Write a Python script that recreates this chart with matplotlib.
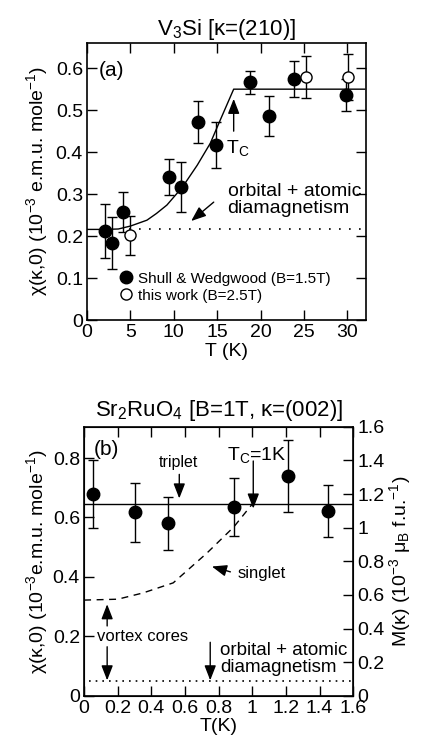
import numpy as np
import matplotlib
matplotlib.use("Agg")
import matplotlib.pyplot as plt
from matplotlib.lines import Line2D

plt.rcParams["font.family"] = ["Liberation Sans", "DejaVu Sans"]
plt.rcParams["mathtext.default"] = "regular"

# ── Panel (a): V3Si ───────────────────────────────────────────────────────────
a_filled_T   = [2.1, 2.9, 4.1, 9.5, 10.8, 12.8, 14.9, 18.8, 21.0, 23.9, 29.8]
a_filled_chi = [0.212, 0.183, 0.258, 0.340, 0.317, 0.471, 0.417, 0.566, 0.486, 0.574, 0.536]
a_filled_err = [0.065, 0.062, 0.048, 0.043, 0.060, 0.050, 0.055, 0.028, 0.048, 0.042, 0.038]

a_open_T   = [5.0, 25.2, 30.1]
a_open_chi = [0.202, 0.579, 0.579]
a_open_err = [0.047, 0.050, 0.055]

# model curve
a_fit_T   = [0, 2, 3.6, 5, 6.9, 8, 9.2, 11.0, 12.7, 14.2, 15.3, 16.9, 32]
a_fit_chi = [0.216, 0.216, 0.217, 0.224, 0.238, 0.254, 0.274, 0.317, 0.369, 0.421, 0.474, 0.550, 0.550]

a_diamag = 0.217

# ── Panel (b): Sr2RuO4 ───────────────────────────────────────────────────────
b_T   = [0.055, 0.30, 0.50, 0.89, 1.21, 1.45]
b_chi = [0.679, 0.618, 0.580, 0.636, 0.739, 0.622]
b_err = [0.115, 0.099, 0.089, 0.097, 0.12, 0.087]

b_triplet = 0.645
b_singlet_T   = [0, 0.2, 0.35, 0.53, 0.73, 0.89, 1.0]
b_singlet_chi = [0.322, 0.325, 0.346, 0.38, 0.48, 0.568, 0.645]
b_diamag = 0.05

fig = plt.figure(figsize=(4.27, 7.41), dpi=100)

TICK = dict(direction="in", length=7, width=1, labelsize=14, pad=3)
arr = dict(arrowstyle="-|>,head_length=0.9,head_width=0.35", color="k", lw=1,
           shrinkA=0, shrinkB=0)

# ── (a) ──────────────────────────────────────────────────────────────────────
ax = fig.add_axes([0.204, 0.568, 0.654, 0.374])
ax.plot(a_fit_T, a_fit_chi, color="k", lw=1)
ax.axhline(a_diamag, xmin=0.15, color="k", lw=1.2, ls=(0, (1, 5)))
ax.errorbar(a_filled_T, a_filled_chi, yerr=a_filled_err, fmt="o", color="k",
            ms=9, capsize=3.5, elinewidth=1, capthick=1)
ax.errorbar(a_open_T, a_open_chi, yerr=a_open_err, fmt="o", color="k",
            mfc="white", mec="k", ms=8, capsize=3.5, elinewidth=1, capthick=1)

ax.set_xlim(0, 32.2)
ax.set_ylim(0, 0.66)
ax.set_xticks([0, 5, 10, 15, 20, 25, 30])
ax.set_xticklabels(["0", "5", "10", "15", "20", "25", "30"])
ax.set_yticks([0, 0.1, 0.2, 0.3, 0.4, 0.5, 0.6])
ax.set_yticklabels(["0", "0.1", "0.2", "0.3", "0.4", "0.5", "0.6"])
ax.tick_params(**TICK, top=True, right=True)
for s in ax.spines.values():
    s.set_linewidth(1.2)
ax.set_xlabel("T (K)", fontsize=14, labelpad=1)
ax.set_ylabel(r"χ(κ,0) (10$^{-3}$ e.m.u. mole$^{-1}$)", fontsize=14, labelpad=4)
ax.set_title(r"V$_3$Si [κ=(210)]", fontsize=16, pad=6)

ax.text(1.3, 0.595, "(a)", fontsize=15, va="center", ha="left")
ax.annotate("", xy=(16.9, 0.527), xytext=(16.9, 0.45), arrowprops=arr)
ax.text(16.0, 0.41, "T$_C$", fontsize=14, va="center", ha="left")
ax.annotate("", xy=(12.0, 0.236), xytext=(14.6, 0.281), arrowprops=arr)
ax.text(16.2, 0.286, "orbital + atomic\ndiamagnetism", fontsize=14,
        va="center", ha="left", linespacing=1.0)

handles = [
    Line2D([], [], marker="o", ls="none", color="k", ms=9),
    Line2D([], [], marker="o", ls="none", mfc="white", mec="k", ms=8),
]
ax.legend(handles, ["Shull & Wedgwood (B=1.5T)", "this work (B=2.5T)"],
          loc="lower left", bbox_to_anchor=(0.09, 0.035), frameon=False,
          fontsize=11, handlelength=0.8, handletextpad=0.4,
          labelspacing=0.2, borderpad=0)

# ── (b) ──────────────────────────────────────────────────────────────────────
bx = fig.add_axes([0.197, 0.061, 0.630, 0.363])
bx.axhline(b_triplet, color="k", lw=1)
bx.plot(b_singlet_T, b_singlet_chi, color="k", lw=1, ls=(0, (5, 4)))
bx.axhline(b_diamag, xmin=0.02, color="k", lw=1.2, ls=(0, (1, 3)))
bx.errorbar(b_T, b_chi, yerr=b_err, fmt="o", color="k", ms=9,
            capsize=3.5, elinewidth=1, capthick=1)

bx.set_xlim(0, 1.6)
bx.set_ylim(0, 0.905)
bx.set_xticks([0, 0.2, 0.4, 0.6, 0.8, 1.0, 1.2, 1.4, 1.6])
bx.set_xticklabels(["0", "0.2", "0.4", "0.6", "0.8", "1", "1.2", "1.4", "1.6"])
bx.set_yticks([0, 0.2, 0.4, 0.6, 0.8])
bx.set_yticklabels(["0", "0.2", "0.4", "0.6", "0.8"])
bx.tick_params(**TICK, top=True)
for s in bx.spines.values():
    s.set_linewidth(1.2)
bx.set_xlabel("T(K)", fontsize=14, labelpad=1)
bx.set_ylabel(r"χ(κ,0) (10$^{-3}$e.m.u. mole$^{-1}$)", fontsize=14, labelpad=2)
bx.set_title(r"Sr$_2$RuO$_4$ [B=1T, κ=(002)]", fontsize=16, pad=8)

rx = bx.twinx()
rx.set_ylim(0, 1.6)
rx.set_yticks([0, 0.2, 0.4, 0.6, 0.8, 1.0, 1.2, 1.4, 1.6])
rx.set_yticklabels(["0", "0.2", "0.4", "0.6", "0.8", "1", "1.2", "1.4", "1.6"])
rx.tick_params(**TICK)
rx.set_ylabel(r"M(κ) (10$^{-3}$ μ$_B$ f.u.$^{-1}$)", fontsize=14, labelpad=2)

bx.text(0.06, 0.827, "(b)", fontsize=15, va="center", ha="left")
bx.text(0.56, 0.786, "triplet", fontsize=11.5, va="center", ha="center")
bx.annotate("", xy=(0.566, 0.664), xytext=(0.566, 0.745), arrowprops=arr)
bx.text(0.85, 0.81, "T$_C$=1K", fontsize=14, va="center", ha="left")
bx.annotate("", xy=(1.006, 0.630), xytext=(1.006, 0.79), arrowprops=arr)
bx.text(0.915, 0.413, "singlet", fontsize=12, va="center", ha="left")
bx.annotate("", xy=(0.76, 0.435), xytext=(0.87, 0.417), arrowprops=arr)
bx.text(0.075, 0.198, "vortex cores", fontsize=12, va="center", ha="left")
bx.annotate("", xy=(0.137, 0.308), xytext=(0.137, 0.235), arrowprops=arr)
bx.annotate("", xy=(0.137, 0.052), xytext=(0.137, 0.165), arrowprops=arr)
bx.text(0.81, 0.124, "orbital + atomic\ndiamagnetism", fontsize=13.5,
        va="center", ha="left", linespacing=1.0)
bx.annotate("", xy=(0.75, 0.052), xytext=(0.75, 0.18), arrowprops=arr)

fig.savefig("out.png", dpi=100)
